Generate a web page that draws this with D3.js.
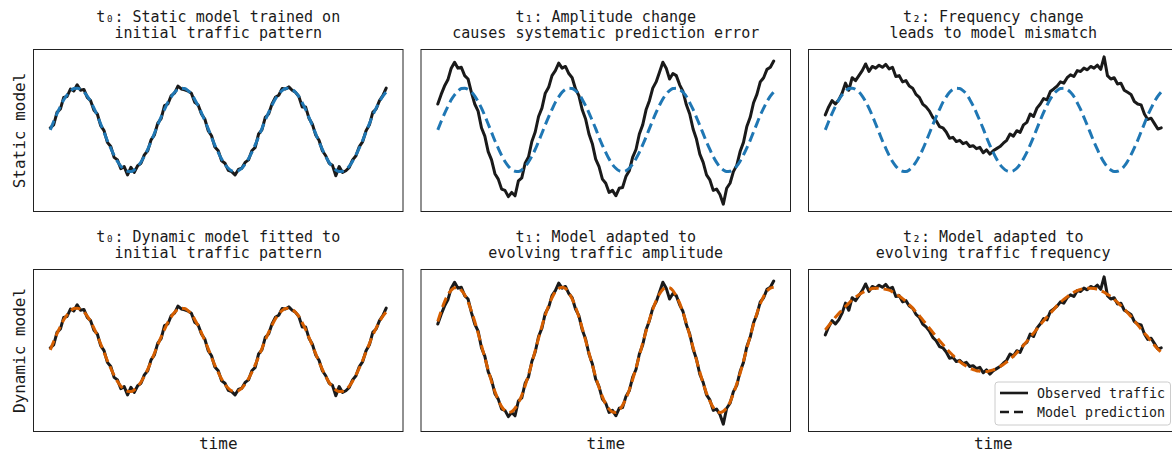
<!DOCTYPE html>
<html>
<head>
<meta charset="utf-8">
<script src="https://cdn.jsdelivr.net/npm/d3@7"></script>
<style>
  html, body { margin: 0; padding: 0; background: #ffffff; }
  svg { display: block; font-family: "DejaVu Sans Mono", monospace; }
</style>
</head>
<body>
<svg id="chart" width="1172" height="452"></svg>
<script>
// ---------------- data ----------------
const rowLabels = ["Static model", "Dynamic model"];
const xLabel = "time";
const titlesStatic = [
  ["t₀: Static model trained on", "initial traffic pattern"],
  ["t₁: Amplitude change", "causes systematic prediction error"],
  ["t₂: Frequency change", "leads to model mismatch"]
];
const titlesDynamic = [
  ["t₀: Dynamic model fitted to", "initial traffic pattern"],
  ["t₁: Model adapted to", "evolving traffic amplitude"],
  ["t₂: Model adapted to", "evolving traffic frequency"]
];
const legendLabels = ["Observed traffic", "Model prediction"];

// observed traffic at t0 (initial pattern)
const observedT0 = [0.05,0.12,0.42,0.50,0.78,0.80,0.98,0.93,1.08,0.95,
  0.97,0.78,0.70,0.47,0.38,0.10,-0.02,-0.30,-0.40,-0.66,
  -0.72,-0.93,-0.88,-1.08,-0.90,-1.02,-0.86,-0.80,-0.60,-0.50,
  -0.24,-0.12,0.16,0.27,0.58,0.62,0.82,0.88,1.05,0.98,
  0.96,0.93,0.88,0.66,0.60,0.38,0.26,-0.02,-0.14,-0.41,
  -0.50,-0.74,-0.80,-0.97,-1.00,-1.08,-0.95,-0.92,-0.78,-0.72,
  -0.50,-0.42,-0.10,0.00,0.30,0.38,0.62,0.78,0.83,0.99,
  0.98,1.03,0.95,0.90,0.80,0.55,0.55,0.28,0.14,-0.12,
  -0.25,-0.50,-0.62,-0.80,-0.85,-1.10,-0.88,-1.02,-0.98,-0.90,
  -0.72,-0.62,-0.40,-0.28,-0.02,0.12,0.42,0.50,0.70,0.82,
  1.00];
// observed traffic at t1 (amplitude change)
const observedT1 = [0.62,0.85,1.05,1.20,1.48,1.62,1.48,1.50,1.30,1.22,
  0.90,0.62,0.45,0.05,-0.15,-0.52,-0.72,-1.05,-1.18,-1.42,
  -1.45,-1.60,-1.50,-1.58,-1.22,-1.15,-0.80,-0.65,-0.28,-0.05,
  0.32,0.52,0.88,1.02,1.30,1.42,1.60,1.48,1.52,1.35,
  1.25,0.98,0.82,0.48,0.26,-0.10,-0.33,-0.70,-0.88,-1.18,
  -1.28,-1.50,-1.45,-1.58,-1.40,-1.38,-1.12,-0.98,-0.66,-0.47,
  -0.10,0.12,0.48,0.70,1.00,1.15,1.38,1.62,1.48,1.22,
  1.35,1.30,1.08,0.92,0.60,0.38,0.02,-0.22,-0.58,-0.78,
  -1.08,-1.20,-1.45,-1.42,-1.55,-1.78,-1.40,-1.28,-1.00,-0.85,
  -0.52,-0.30,0.08,0.30,0.65,0.85,1.15,1.25,1.45,1.50,
  1.65];
// observed traffic at t2 (frequency change)
const observedT2 = [0.36,0.55,0.70,0.62,0.72,0.88,1.12,0.95,1.25,1.18,
  1.30,1.42,1.58,1.40,1.52,1.48,1.55,1.50,1.57,1.46,
  1.50,1.28,1.30,1.15,1.18,1.05,1.00,0.85,0.78,0.62,
  0.55,0.45,0.30,0.22,0.08,0.05,-0.05,-0.20,-0.18,-0.28,
  -0.25,-0.33,-0.30,-0.40,-0.38,-0.45,-0.42,-0.55,-0.48,-0.58,
  -0.50,-0.45,-0.40,-0.32,-0.25,-0.10,-0.15,-0.02,-0.06,0.12,
  0.18,0.38,0.32,0.52,0.62,0.75,0.72,0.92,0.98,1.05,
  1.15,1.12,1.25,1.32,1.28,1.42,1.40,1.48,1.44,1.52,
  1.48,1.55,1.45,1.75,1.30,1.22,1.25,1.10,1.12,0.95,
  0.90,0.85,0.68,0.62,0.60,0.38,0.25,0.28,0.15,0.02,
  0.05];
// static model prediction (unchanged over time)
const predictionStatic = [0,0.20,0.39,0.56,0.72,0.84,0.93,0.99,1.00,0.97,
  0.91,0.81,0.68,0.52,0.34,0.14,-0.06,-0.26,-0.44,-0.61,
  -0.76,-0.87,-0.95,-0.99,-1.00,-0.96,-0.88,-0.77,-0.63,-0.47,
  -0.28,-0.08,0.12,0.31,0.49,0.66,0.79,0.90,0.97,1.00,
  0.99,0.94,0.86,0.73,0.58,0.41,0.22,0.03,-0.18,-0.37,
  -0.54,-0.70,-0.83,-0.92,-0.98,-1.00,-0.98,-0.92,-0.82,-0.69,
  -0.54,-0.36,-0.17,0.03,0.23,0.42,0.59,0.74,0.86,0.94,
  0.99,1.00,0.97,0.90,0.80,0.65,0.49,0.30,0.11,-0.09,
  -0.29,-0.47,-0.64,-0.78,-0.89,-0.96,-1.00,-0.99,-0.95,-0.87,
  -0.75,-0.60,-0.43,-0.25,-0.05,0.15,0.35,0.52,0.68,0.81,
  0.91];
// dynamic model predictions
const predictionDynamicT0 = predictionStatic;
const predictionDynamicT1 = [0.68,0.93,1.15,1.32,1.43,1.49,1.49,1.43,1.32,1.15,
  0.93,0.68,0.40,0.11,-0.19,-0.48,-0.76,-1.00,-1.20,-1.36,
  -1.46,-1.50,-1.48,-1.40,-1.27,-1.09,-0.86,-0.60,-0.32,-0.02,
  0.28,0.57,0.83,1.06,1.25,1.39,1.47,1.50,1.47,1.37,
  1.22,1.03,0.79,0.52,0.23,-0.07,-0.36,-0.65,-0.90,-1.12,
  -1.30,-1.42,-1.49,-1.50,-1.44,-1.33,-1.17,-0.96,-0.71,-0.44,
  -0.14,0.16,0.45,0.72,0.97,1.18,1.34,1.45,1.50,1.49,
  1.42,1.29,1.12,0.89,0.64,0.35,0.06,-0.24,-0.53,-0.80,
  -1.04,-1.23,-1.38,-1.47,-1.50,-1.47,-1.39,-1.25,-1.05,-0.82,
  -0.56,-0.27,0.03,0.33,0.61,0.87,1.10,1.28,1.41,1.48,
  1.50];
const predictionDynamicT2 = [0.48,0.58,0.68,0.78,0.87,0.96,1.04,1.12,1.20,1.26,
  1.32,1.37,1.41,1.44,1.47,1.48,1.48,1.47,1.45,1.43,
  1.39,1.34,1.29,1.23,1.16,1.08,1.00,0.91,0.82,0.72,
  0.62,0.52,0.42,0.32,0.22,0.13,0.04,-0.05,-0.13,-0.21,
  -0.28,-0.34,-0.39,-0.44,-0.47,-0.50,-0.51,-0.52,-0.52,-0.50,
  -0.48,-0.45,-0.40,-0.35,-0.29,-0.23,-0.15,-0.07,0.02,0.11,
  0.20,0.30,0.40,0.50,0.60,0.70,0.79,0.88,0.97,1.06,
  1.14,1.21,1.27,1.33,1.38,1.42,1.45,1.47,1.48,1.48,
  1.47,1.45,1.42,1.38,1.33,1.28,1.21,1.14,1.06,0.98,
  0.89,0.80,0.70,0.60,0.50,0.40,0.31,0.21,0.11,0.02,
  -0.06];

// ---------------- layout ----------------
const svg = d3.select("#chart");
const W = 1172, H = 452;
svg.append("rect").attr("width", W).attr("height", H).attr("fill", "#ffffff");

const panelW = 369.5, panelH = 162;
const colLeft = [33.5, 421, 808.5];
const rowTop = [49.5, 269.5];
const blue = "#1f77b4", orange = "#d55e00", ink = "#1a1a1a";

const observed = [observedT0, observedT1, observedT2];
const rows = [
  { titles: titlesStatic, preds: [predictionStatic, predictionStatic, predictionStatic], color: blue },
  { titles: titlesDynamic, preds: [predictionDynamicT0, predictionDynamicT1, predictionDynamicT2], color: orange }
];

const allVals = [].concat(observedT0, observedT1, observedT2, predictionStatic, predictionDynamicT1, predictionDynamicT2);
const [vMin, vMax] = d3.extent(allVals);
const pad = (vMax - vMin) * 0.05;
const n = observedT0.length;
const xPad = (n - 1) * 0.05;

rows.forEach((row, r) => {
  for (let c = 0; c < 3; c++) {
    const x0 = colLeft[c], y0 = rowTop[r];
    const x = d3.scaleLinear().domain([-xPad, n - 1 + xPad]).range([x0, x0 + panelW]);
    const y = d3.scaleLinear().domain([vMin - pad, vMax + pad]).range([y0 + panelH, y0]);
    const g = svg.append("g");
    const clipId = `clip-${r}-${c}`;
    g.append("clipPath").attr("id", clipId)
      .append("rect").attr("x", x0).attr("y", y0).attr("width", panelW).attr("height", panelH);

    const line = d3.line().x((d, i) => x(i)).y(d => y(d));
    const plot = g.append("g").attr("clip-path", `url(#${clipId})`);
    plot.append("path").datum(observed[c])
      .attr("d", line).attr("fill", "none")
      .attr("stroke", ink).attr("stroke-width", 3)
      .attr("stroke-linejoin", "round").attr("stroke-linecap", "round");
    plot.append("path").datum(row.preds[c])
      .attr("d", line.curve(d3.curveMonotoneX)).attr("fill", "none")
      .attr("stroke", row.color).attr("stroke-width", 3)
      .attr("stroke-dasharray", "10,5");

    // frame
    g.append("rect").attr("x", x0).attr("y", y0).attr("width", panelW).attr("height", panelH)
      .attr("fill", "none").attr("stroke", "#222").attr("stroke-width", 1);

    // title
    const cx = x0 + panelW / 2;
    const baseY = r === 0 ? 21.5 : 241.5;
    row.titles[c].forEach((t, k) => {
      svg.append("text").attr("x", cx).attr("y", baseY + k * 16.5)
        .attr("text-anchor", "middle").attr("font-size", 15).attr("fill", ink).text(t);
    });

    if (r === 1) {
      svg.append("text").attr("x", cx).attr("y", 449)
        .attr("text-anchor", "middle").attr("font-size", 16).attr("fill", ink).text(xLabel);
    }
  }
  svg.append("text")
    .attr("transform", `translate(24.5,${rowTop[r] + panelH / 2}) rotate(-90)`)
    .attr("text-anchor", "middle").attr("font-size", 16).attr("fill", ink).text(rowLabels[r]);
});

// legend in the last panel
const lg = svg.append("g");
lg.append("rect").attr("x", 995).attr("y", 382).attr("width", 175.5).attr("height", 43)
  .attr("rx", 3).attr("fill", "#ffffff").attr("fill-opacity", 0.8)
  .attr("stroke", "#cccccc").attr("stroke-width", 1);
legendLabels.forEach((lab, k) => {
  const yy = 393 + k * 19;
  lg.append("line").attr("x1", 1000).attr("x2", 1028).attr("y1", yy).attr("y2", yy)
    .attr("stroke", ink).attr("stroke-width", 2.6)
    .attr("stroke-dasharray", k === 1 ? "9,5" : null);
  lg.append("text").attr("x", 1037).attr("y", yy + 4.5)
    .attr("font-size", 13.3).attr("fill", ink).text(lab);
});
</script>
</body>
</html>
